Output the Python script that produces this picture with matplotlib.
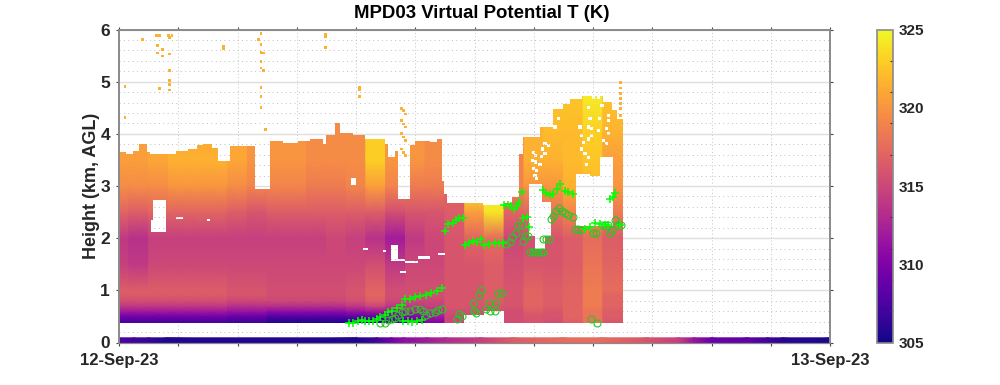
import numpy as np
import matplotlib
matplotlib.use("Agg")
import matplotlib.pyplot as plt
from matplotlib.path import Path
from matplotlib.cm import ScalarMappable
from matplotlib.colors import Normalize

plt.rcParams['font.family'] = ['Liberation Sans', 'DejaVu Sans']
plt.rcParams['font.weight'] = 'bold'
INK = '#262626'
AXC = '#8a8a8a'

title = 'MPD03 Virtual Potential T (K)'
ylabel = 'Height (km, AGL)'
x_labels = {0: '12-Sep-23', 24: '13-Sep-23'}
cbar_labels = [305, 310, 315, 320, 325]
cbar_minor = [307, 309, 311, 313, 317, 319, 321, 323]

# time-block edges (hours)
block_edges = [0, .33, 1, 1.67, 2.33, 3, 3.67, 4.33, 5, 5.67, 6.33, 7, 7.67, 8.33, 9, 9.67,
               10.33, 11, 11.67, 12.33, 13, 13.67, 14.33, 15, 15.67, 16.33, 17]
# profile heights (km)
levels = [.38, .5, .6, .7, .8, .9, 1, 1.5, 2, 2.5, 3, 3.5, 4, 4.8]
# virtual potential temperature per block (rows) at each level (columns)
T = [
 [307, 309.5, 312, 314, 315.5, 316.3, 316.5, 314.5, 314, 317, 319.5, 320.5, 320.5, 320.5],
 [307, 309.5, 312, 314, 315.5, 316.3, 316.5, 314, 313.5, 316.5, 319.5, 320.5, 320.5, 320.5],
 [307, 309.5, 312, 314, 315.5, 316.3, 316.5, 315, 314.5, 317, 319.5, 321, 321, 321],
 [307, 309.5, 312, 314, 315.5, 316.3, 316.5, 315, 314.5, 317, 320, 321.5, 321, 321],
 [307, 309.5, 312, 314, 315.5, 316.3, 316.5, 315, 314.5, 317, 320, 321.5, 321, 321],
 [307, 309.5, 312, 314, 315.5, 316.3, 316.5, 315, 314.5, 317, 320, 321.5, 321, 321],
 [306.5, 309, 311.5, 313.5, 315, 316, 316, 315, 314.5, 316.5, 319.5, 321, 321, 320.5],
 [306.5, 309, 311.5, 313.5, 315, 316, 316, 315, 314.5, 316, 319, 320, 320, 320],
 [305.5, 308, 311, 313.5, 315, 315.5, 315.5, 315, 314.5, 316.5, 319, 320, 320, 320],
 [305.5, 308, 311, 313.5, 315, 315.5, 315.5, 315, 314.5, 316.5, 319, 320, 320, 320],
 [305.5, 308, 311, 313.5, 315, 315.5, 315.5, 315, 314.5, 316.5, 318.5, 319.5, 319.5, 319.5],
 [305.5, 308, 311, 313.5, 315, 315.5, 315.5, 315, 315, 316.5, 318.5, 319.5, 319.5, 319.5],
 [306, 308.5, 311.5, 314, 315.5, 316, 316, 315, 314.5, 316.5, 319, 319.5, 319.5, 319.5],
 [306, 308.5, 312, 315, 316.5, 317, 317, 315.5, 313.5, 316.5, 320.5, 323, 323, 323],
 [306.5, 309.5, 312, 314, 315, 315.5, 315.5, 314, 312, 315.5, 319, 320, 320, 320],
 [308, 310.5, 312.5, 314, 315, 315.5, 315.5, 315, 314, 316, 318.5, 320, 320, 320],
 [310, 312, 313.5, 314.5, 315, 315.5, 315.5, 315, 315, 316, 318.5, 319.5, 319.5, 319.5],
 [315, 315, 315.5, 316, 316, 316, 316, 316, 316, 316.5, 317, 317, 317, 317],
 [315.5, 315.5, 315.5, 316, 316, 316, 316, 316, 317, 320.5, 325, 325, 325, 325],
 [315.5, 315.5, 316, 316, 316.5, 316.5, 316.5, 316.5, 317.5, 324, 325, 325, 325, 325],
 [315.5, 315.5, 315.5, 316, 316, 316, 316, 315.5, 315, 317, 319, 319, 319, 319],
 [316, 316, 316.5, 317, 317, 317, 317, 316, 315.5, 317, 320, 321.5, 321.5, 321.5],
 [315.5, 316, 316, 316.5, 316.5, 316.5, 316.5, 316, 316, 318, 320, 321.5, 322, 322.5],
 [316.5, 317, 317, 317, 317, 317, 317, 316.5, 316.5, 319, 321.5, 322, 322, 322.5],
 [318, 318, 318, 318.5, 318.5, 318.5, 318.5, 318, 317.5, 320, 322, 322.5, 323, 324.5],
 [316, 316.5, 316.5, 317, 317, 317, 317.5, 317, 316.5, 318.5, 320, 320.5, 321.5, 322.5],
]

# top of valid data: segment start times (h) and top height (km)
top_t = [0, .24, .48, .69, .93, 1.05, 1.92, 2.34, 2.62, 2.85, 3.13, 3.35, 3.75, 4.59, 5.09, 5.55,
         6.05, 6.45, 6.89, 7.0, 7.29, 7.46, 7.91, 8.30, 8.98, 9.09, 9.32, 9.43, 9.82, 9.99, 10.5,
         10.72, 10.89, 10.97, 11.06, 12.30, 12.99, 13.25, 13.50, 13.65, 14.21, 14.66, 15.0, 15.22,
         15.62, 16.35, 16.63, 16.80]
top_h = [3.65, 3.62, 3.68, 3.80, 3.65, 3.62, 3.68, 3.71, 3.78, 3.80, 3.73, 3.47, 3.76, 2.95, 3.86,
         3.82, 3.87, 3.90, 3.81, 3.97, 4.20, 4.02, 3.97, 3.90, 3.81, 3.55, 3.68, 2.76, 3.78, 3.87,
         3.84, 3.90, 3.10, 2.85, 2.67, 2.63, 2.67, 2.79, 3.62, 3.93, 4.13, 4.48, 4.575, 4.67, 4.73,
         4.61, 4.45, 4.29]
data_end = 17.0
# bottom of valid data
bot_t = [0, 11.66, 12.33, 12.99]
bot_h = [.38, .53, .60, .38]

# missing-data boxes: t0, t1, h0, h1
gaps = [
 (1.16, 1.59, 2.11, 2.74), (1.08, 1.16, 2.11, 2.35), (1.92, 2.16, 2.37, 2.41), (2.97, 3.07, 2.33, 2.37),
 (7.83, 8.0, 3.01, 3.16), (8.24, 8.40, 1.78, 1.82), (8.91, 9.01, 1.73, 1.77), (9.18, 9.42, 1.57, 1.86),
 (9.43, 9.65, 1.56, 1.60), (9.65, 10.1, 1.52, 1.56), (10.1, 10.5, 1.61, 1.65), (10.78, 11.0, 1.67, 1.71),
 (9.5, 9.7, 1.33, 1.37),
 (13.84, 14.27, 2.69, 3.04), (13.84, 14.58, 2.05, 2.69), (14.04, 14.38, 1.80, 2.05),
 (15.42, 15.90, 2.24, 3.23), (15.90, 16.23, 2.24, 3.20), (16.23, 16.66, 2.24, 3.55),
]
speck_t = [13.98, 14.07, 13.95, 14.07, 14.21, 13.98, 14.10, 14.04, 14.10, 14.30, 14.38, 14.38, 14.27, 14.50,
           14.72, 14.83, 15.56, 15.62, 15.67, 15.62, 15.73, 15.84, 15.78, 15.84, 15.95, 15.90, 15.84, 16.18,
           16.23, 16.18, 16.35, 16.46, 16.52, 16.52, 15.95, 15.84, 16.30, 16.01, 16.52, 16.46]
speck_h = [3.65, 3.58, 3.49, 3.46, 3.42, 3.33, 3.30, 3.20, 3.14, 3.71, 3.81, 3.62, 3.57, 3.78,
           4.13, 4.29, 4.13, 3.97, 3.84, 3.71, 3.62, 3.55, 3.42, 4.13, 4.10, 4.29, 4.51, 4.69,
           4.29, 4.06, 3.87, 3.81, 4.26, 4.35, 3.97, 3.90, 4.54, 4.69, 4.00, 4.10]

# isolated valid gates above the main layer
iso_t = [.20, .20, .79, 1.27, 1.36, 1.67, 1.79, 1.70, 1.29, 1.46, 1.29, 1.46, 1.70, 1.70, 1.70, 1.70, 1.70, 1.36,
         3.53, 3.53, 4.79, 4.70, 4.79, 4.79, 4.87, 4.79, 4.79, 4.87, 4.79, 4.79, 4.79, 4.95, 6.96, 6.96, 6.96,
         8.12, 8.12, 8.12, 9.54, 9.68, 9.54, 9.68, 9.54, 9.68, 9.54, 9.68, 9.6, 9.6, 9.6, 9.6,
         16.94, 16.94, 16.94, 16.94, 16.94, 16.94, 16.94]
iso_h = [4.91, 4.31, 5.81, 5.88, 5.88, 5.88, 5.88, 5.85, 5.70, 5.62, 5.55, 5.49, 5.53, 5.21, 5.02, 4.94, 4.84, 4.87,
         5.68, 5.64, 5.92, 5.81, 5.71, 5.56, 5.55, 5.39, 5.26, 5.21, 4.89, 4.71, 4.50, 4.08, 5.90, 5.86, 5.65,
         4.89, 4.85, 4.71, 4.48, 4.38, 4.25, 4.13, 4.0, 3.87, 3.71, 3.58, 4.44, 4.19, 3.94, 3.64,
         4.98, 4.88, 4.78, 4.68, 4.58, 4.48, 4.35]
iso_v = [321.5] * len(iso_t)

# surface temperature strip
sfc_t = [0, .5, 1, 1.6, 8, 8.7, 9.2, 9.6, 10.4, 11, 12.2, 13.3, 15, 16.3, 17.8, 18.9, 19.4, 20, 21.2, 21.9, 22.4, 24]
sfc_v = [307.5, 307, 306.5, 305.6, 305.6, 307, 309.5, 311, 312, 313, 314.5, 316.5, 317.5, 317.5, 316, 314.5,
         311.5, 309, 308.5, 307, 306, 305.5]

# cloud-base detections
plus_t = [7.77, 7.91, 8.08, 8.19, 8.30, 8.45, 8.58, 8.70, 8.81, 8.98, 9.09, 9.20, 9.37, 9.54, 9.65, 9.82, 9.99,
          10.16, 10.36, 10.52, 10.72, 10.89, 9.60, 9.77, 9.88, 10.05, 10.22,
          11.0, 11.12, 11.26, 11.37, 11.49, 11.62,
          11.68, 11.82, 11.96, 12.07, 12.21, 12.33, 12.5, 12.69, 12.84, 12.97,
          12.99, 13.12, 13.23, 13.33, 13.42, 13.50, 13.59, 13.65, 13.76, 13.84,
          14.32, 14.43, 14.55, 14.66, 14.77, 14.88, 15.05, 15.17, 15.33,
          15.73, 15.90, 16.07, 16.23, 16.40, 16.51, 16.59, 16.66, 16.75, 16.91]
plus_h = [.37, .37, .41, .43, .41, .42, .42, .45, .49, .52, .58, .61, .66, .71, .84, .84, .87,
          .90, .92, .95, .98, 1.05, .41, .41, .39, .42, .43,
          2.13, 2.27, 2.29, 2.35, 2.38, 2.38,
          1.86, 1.91, 1.94, 1.92, 1.99, 1.87, 1.89, 1.90, 1.91, 1.91,
          2.64, 2.64, 2.62, 2.56, 2.62, 2.69, 2.88, 2.38, 2.41, 2.22,
          2.93, 2.86, 2.83, 2.85, 2.94, 3.03, 2.91, 2.88, 2.84,
          2.18, 2.21, 2.29, 2.27, 2.26, 2.26, 2.75, 2.79, 2.86, 2.26]
circ_t = [8.81, 8.98, 9.09, 9.20, 9.32, 9.43, 9.54, 9.65, 9.82, 9.99, 10.16, 10.27, 10.36, 10.50, 10.67, 10.78, 10.89,
          11.40, 11.49, 11.59, 11.94, 12.16, 12.23, 11.99, 12.05, 12.39, 12.5, 12.72, 12.54, 12.69, 12.81, 12.93,
          13.08, 13.2, 13.25, 13.4, 13.65, 13.70, 13.82, 13.48, 13.59,
          13.87, 13.96, 14.05, 14.14, 14.23, 14.32, 14.32, 14.41, 14.52,
          14.58, 14.66, 14.75, 14.85, 14.94, 15.05, 15.17, 15.31,
          15.39, 15.50, 15.58, 16.01, 16.10, 16.29, 16.40, 16.51, 16.59, 16.63, 16.74, 16.80, 16.93, 15.92, 16.14]
circ_h = [.37, .37, .43, .45, .47, .52, .58, .60, .60, .64, .64, .61, .53, .56, .58, .62, .64,
          .45, .54, .50, .76, .91, 1.01, .61, .56, .64, .76, .76, .61, .61, .95, .95,
          1.89, 1.92, 2.03, 2.1, 1.94, 2.04, 2.04, 2.25, 2.25,
          1.74, 1.74, 1.74, 1.74, 1.74, 1.74, 1.98, 1.98, 1.98,
          2.37, 2.43, 2.52, 2.58, 2.52, 2.49, 2.45, 2.41,
          2.18, 2.18, 2.15, 2.10, 2.10, 2.25, 2.25, 2.25, 2.10, 2.15, 2.34, 2.25, 2.25, .46, .37]

VMIN, VMAX = 305, 325
fig = plt.figure(figsize=(10, 3.85), dpi=100)
ax = fig.add_axes([0.119, 1 - 342.5 / 385, 0.711, 313 / 385])
cmap = plt.get_cmap('plasma')

# outer region of valid data with holes in it
verts, codes = [], []
b_edges = bot_t[1:] + [data_end]
cx = []
for t0, t1, h in zip(bot_t, b_edges, bot_h):
    cx += [(t0, h), (t1, h)]
t_edges = top_t[1:] + [data_end]
for t0, t1, h in reversed(list(zip(top_t, t_edges, top_h))):
    cx += [(t1, h), (t0, h)]
verts += cx + [cx[0]]
codes += [Path.MOVETO] + [Path.LINETO] * (len(cx) - 1) + [Path.CLOSEPOLY]
def add_hole(t0, t1, h0, h1):
    r = [(t0, h0), (t0, h1), (t1, h1), (t1, h0), (t0, h0)]
    verts.extend(r)
    codes.extend([Path.MOVETO, Path.LINETO, Path.LINETO, Path.LINETO, Path.CLOSEPOLY])
for g in gaps:
    add_hole(*g)
for t, h in zip(speck_t, speck_h):
    add_hole(t - .055, t + .055, h - .03, h + .03)
clip = Path(verts, codes)

T_arr = np.array(T, dtype=float)
for i in range(len(T)):
    C = np.vstack([T_arr[i], T_arr[i]]).T
    m = ax.pcolormesh([block_edges[i], block_edges[i + 1] + 0.03], levels, C, shading='gouraud',
                      cmap=cmap, vmin=VMIN, vmax=VMAX, zorder=2)
    m.set_clip_path(clip, ax.transData)

ax.scatter(iso_t, iso_h, c=iso_v, cmap=cmap, vmin=VMIN, vmax=VMAX, marker='s', s=4, linewidths=0, zorder=2)

S = np.vstack([sfc_v, sfc_v])
ax.pcolormesh(sfc_t, [0, 0.09], S, shading='gouraud', cmap=cmap, vmin=VMIN, vmax=VMAX, zorder=2)

ax.plot(circ_t, circ_h, ls='none', marker='o', ms=5, mfc='none', mec='#25c925', mew=0.8, zorder=4)
ax.plot(plus_t, plus_h, ls='none', marker='+', ms=6, mec='#00ff00', mew=1.1, zorder=5)

ax.set_xlim(0, 24)
ax.set_ylim(0, 6)
ax.set_xticks(np.arange(0, 25, 2))
ax.set_xticklabels([x_labels.get(int(v), '') for v in np.arange(0, 25, 2)], fontsize=12, color=INK)
ax.set_yticks(range(7))
ax.set_yticks(np.arange(0, 6.01, .2), minor=True)
ax.tick_params(axis='both', which='major', direction='out', length=2.5, width=0.8, color='#444444',
               top=True, right=True, labelsize=12.5, labelcolor=INK, pad=4)
ax.tick_params(axis='x', labelsize=12, pad=5)
ax.tick_params(axis='y', which='minor', length=0)
ax.set_axisbelow(True)
ax.grid(True, axis='y', which='major', color='#dedede', lw=1.0, ls='-', zorder=0)
ax.grid(True, axis='y', which='minor', color='#bdbdbd', lw=0.7, ls=(0, (1, 3.5)), zorder=0)
ax.grid(True, axis='x', which='major', color='#c4c4c4', lw=0.7, ls=(0, (1, 2.5)), zorder=0)
for name, sp in ax.spines.items():
    sp.set_color(AXC)
    sp.set_linewidth(1.4 if name != 'bottom' else 0.9)
ax.set_title(title, fontsize=13.4, fontweight='bold', color='black', pad=8, x=0.5105)
ax.set_ylabel(ylabel, fontsize=13, fontweight='bold', color=INK, labelpad=0)

cax = fig.add_axes([0.877, 1 - 342.5 / 385, 0.016, 313 / 385])
cb = fig.colorbar(ScalarMappable(Normalize(VMIN, VMAX), cmap), cax=cax)
cb.set_ticks(cbar_labels)
cb.set_ticklabels([str(v) for v in cbar_labels])
cb.ax.set_yticks(cbar_minor, minor=True)
cb.ax.tick_params(which='major', length=0, labelsize=11, labelcolor=INK, pad=4)
cb.ax.tick_params(which='minor', direction='in', length=2.5, width=0.8, color='#333333')
cb.outline.set_edgecolor(AXC)
cb.outline.set_linewidth(1.2)

fig.savefig('out.png', dpi=100)
